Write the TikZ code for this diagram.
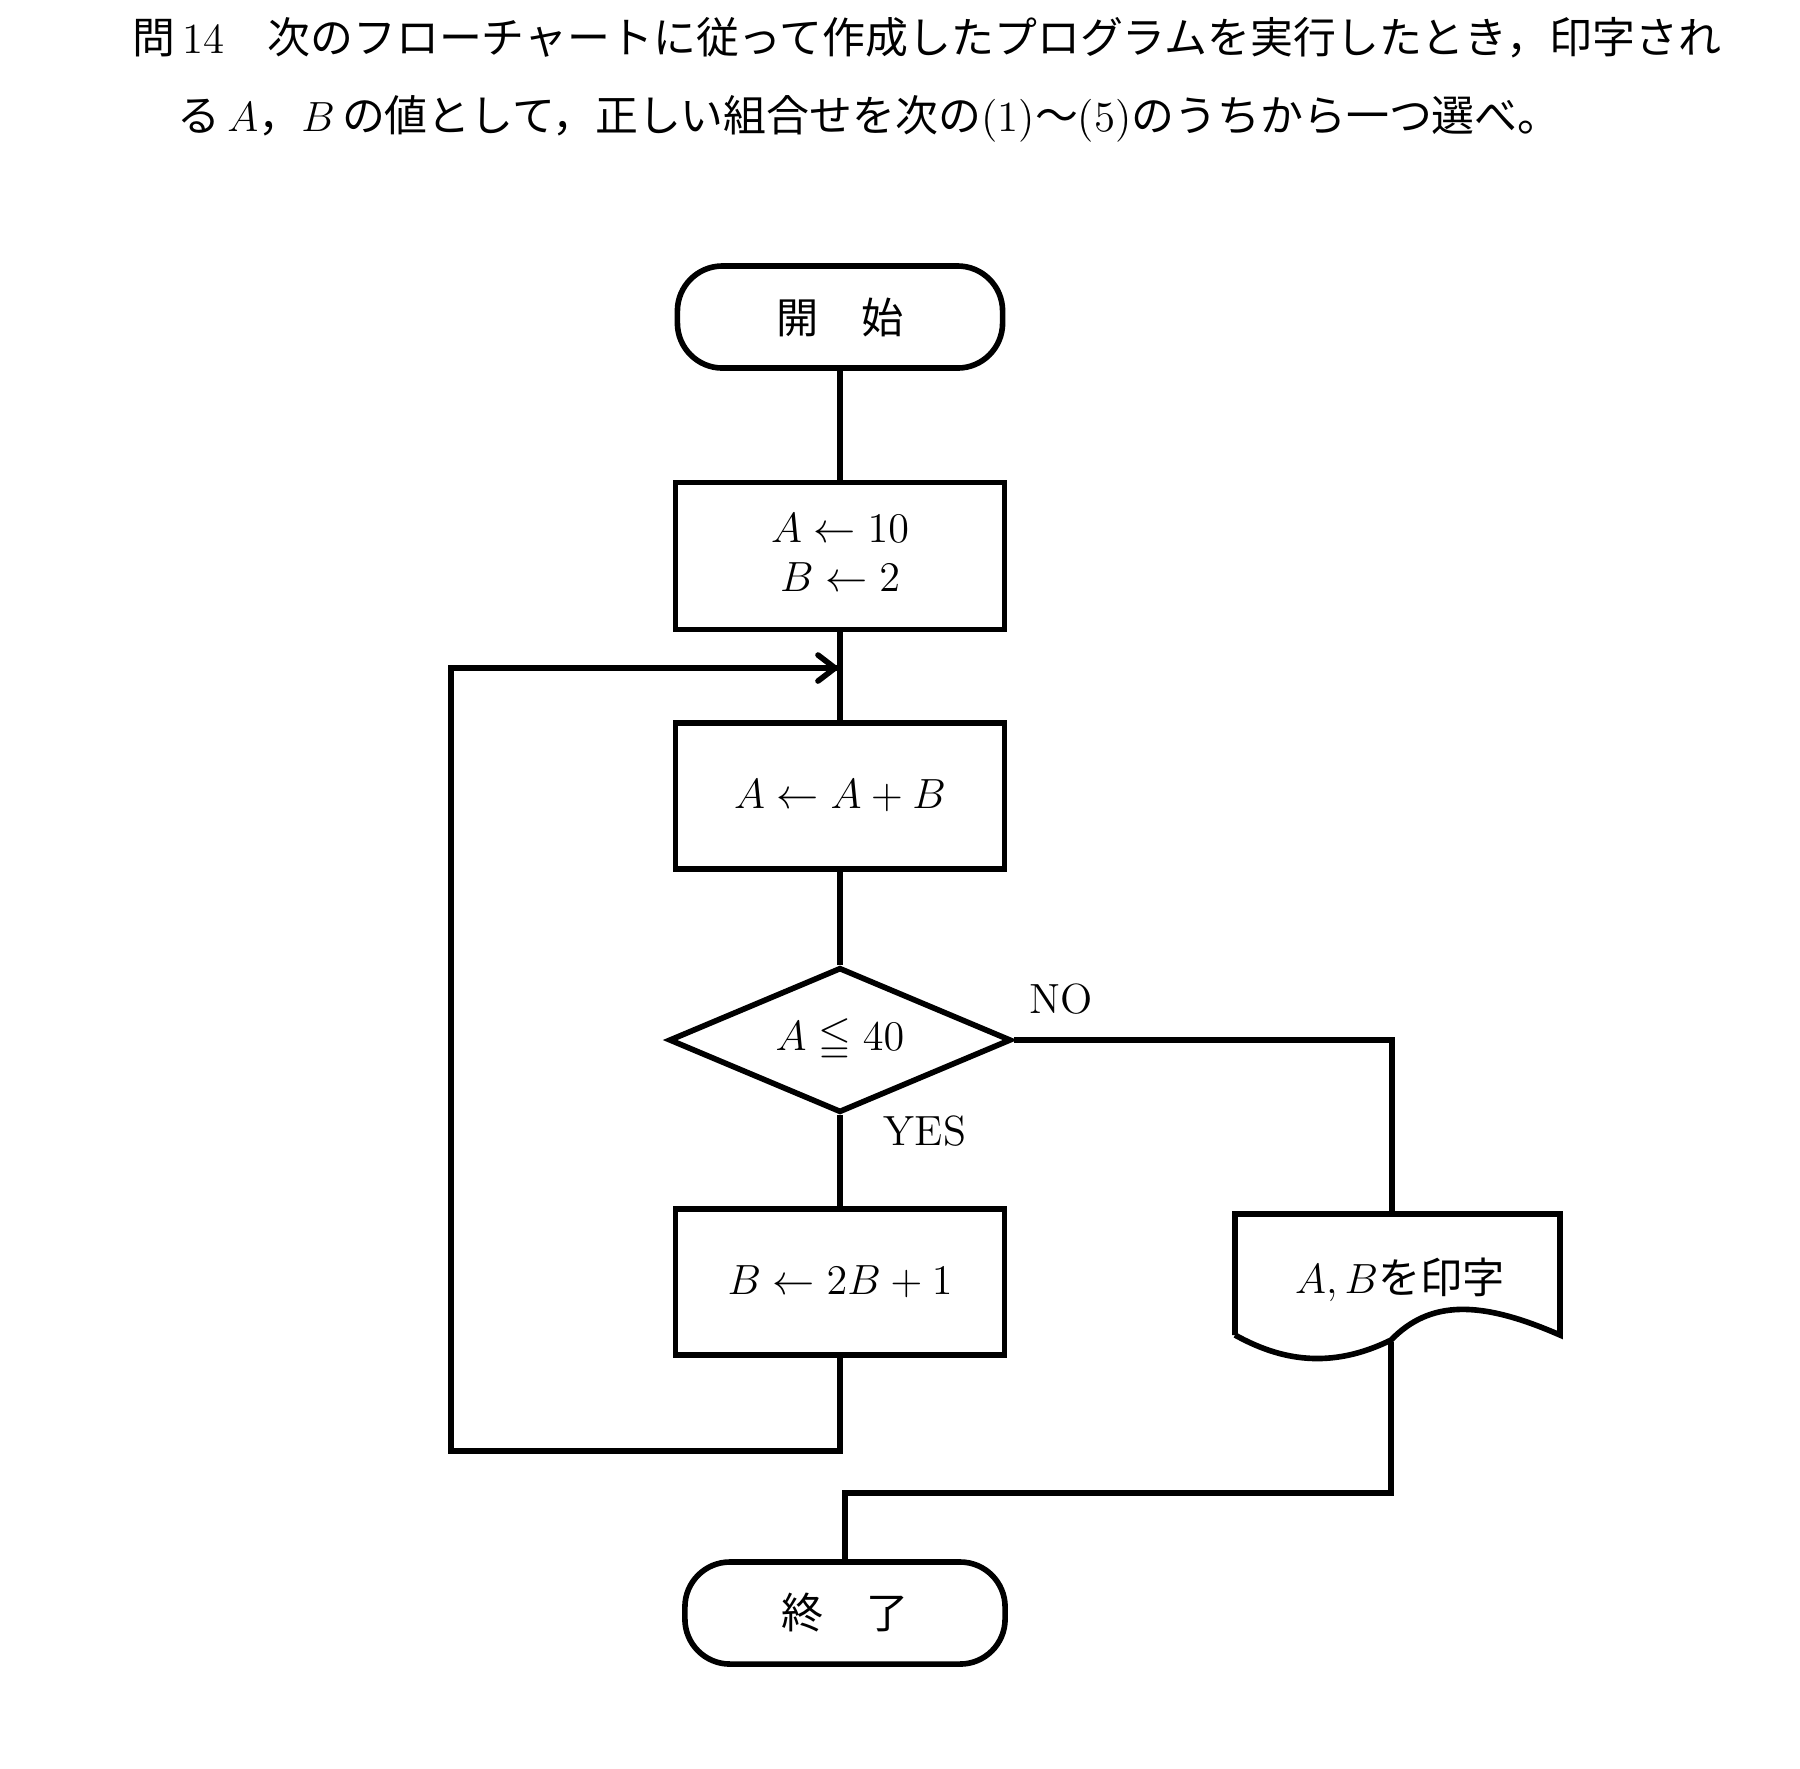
\documentclass[tikz,border=0pt]{standalone}
\usepackage{amsmath,amssymb}
\usepackage{fontspec}
\newfontfamily\jp{Noto Sans CJK JP}
\usetikzlibrary{shapes.geometric}
\tikzset{
  box/.style={draw, line width=1.6pt, minimum width=3.29cm, minimum height=1.46cm, inner sep=0pt, font=\fontsize{12}{16}\selectfont},
  term/.style={draw, line width=1.6pt, rounded corners=0.45cm, minimum width=3.25cm, minimum height=1.02cm, font=\jp\fontsize{12}{14}\selectfont},
  flow/.style={line width=1.6pt},
  lbl/.style={font=\fontsize{12}{14}\selectfont}
}
\begin{document}
\begin{tikzpicture}[x=0.01cm, y=-0.01cm]
    \useasboundingbox (0,0) rectangle (1800,1768);

    % question
    \node[anchor=west, font=\jp\fontsize{12.2}{14}\selectfont] (q1) at (120,38) {問\,{\rmfamily 14}　次のフローチャートに従って作成したプログラムを実行したとき，印字され};
    \node[anchor=west, font=\jp\fontsize{12.2}{14}\selectfont] (q2) at (165,119) {る\,$A$，$B$\,の値として，正しい組合せを次の{\rmfamily(1)}〜{\rmfamily(5)}のうちから一つ選べ。};

    % nodes
    \node[term] (start) at (840,317) {開　始};
    \node[box, minimum height=1.47cm] (init) at (840,556) {$\begin{array}{c}A\leftarrow 10\\[-2pt] B\leftarrow 2\end{array}$};
    \node[box] (add) at (840,796) {$A\leftarrow A+B$};
    \node[diamond, draw, line width=1.6pt, aspect=2.35, minimum width=3.42cm, minimum height=1.45cm, inner sep=0pt, font=\fontsize{12}{14}\selectfont] (cond) at (840,1040) {$A\leqq 40$};
    \node[box] (dbl) at (840,1282) {$B\leftarrow 2B+1$};
    \node[term, minimum width=3.2cm] (stop) at (845,1613) {終　了};

    % print (document shape)
    \draw[flow] (1235,1335) -- (1235,1214) -- (1560,1214) -- (1560,1335)
        .. controls (1480,1300) and (1430,1300) .. (1391,1340)
        .. controls (1330,1370) and (1280,1360) .. (1235,1335);
    \node[font=\fontsize{12}{14}\selectfont] (prt) at (1400,1280) {$A,B$\jp を印字};
    \coordinate (ptop) at (1392,1214);
    \coordinate (pbot) at (1391,1342);

    % connectors
    \draw[flow] (start) -- (init);
    \draw[flow] (init) -- (add);
    \draw[flow] (add) -- (cond);
    \draw[flow] (cond) -- (dbl);
    \coordinate (back) at (840,668);
    \draw[flow, line cap=round] (dbl.south) -- ++(0,93) -| (451,668) -- (back);
    \draw[flow, line cap=round] (818,655) -- (835,668) -- (818,681);
    \draw[flow] (cond.east) -| (ptop);
    \draw[flow] (pbot) |- (845,1493) -- (stop.north);

    % labels
    \node[lbl] (no) at (1061,999) {NO};
    \node[lbl] (yes) at (925,1131) {YES};
\end{tikzpicture}
\end{document}
